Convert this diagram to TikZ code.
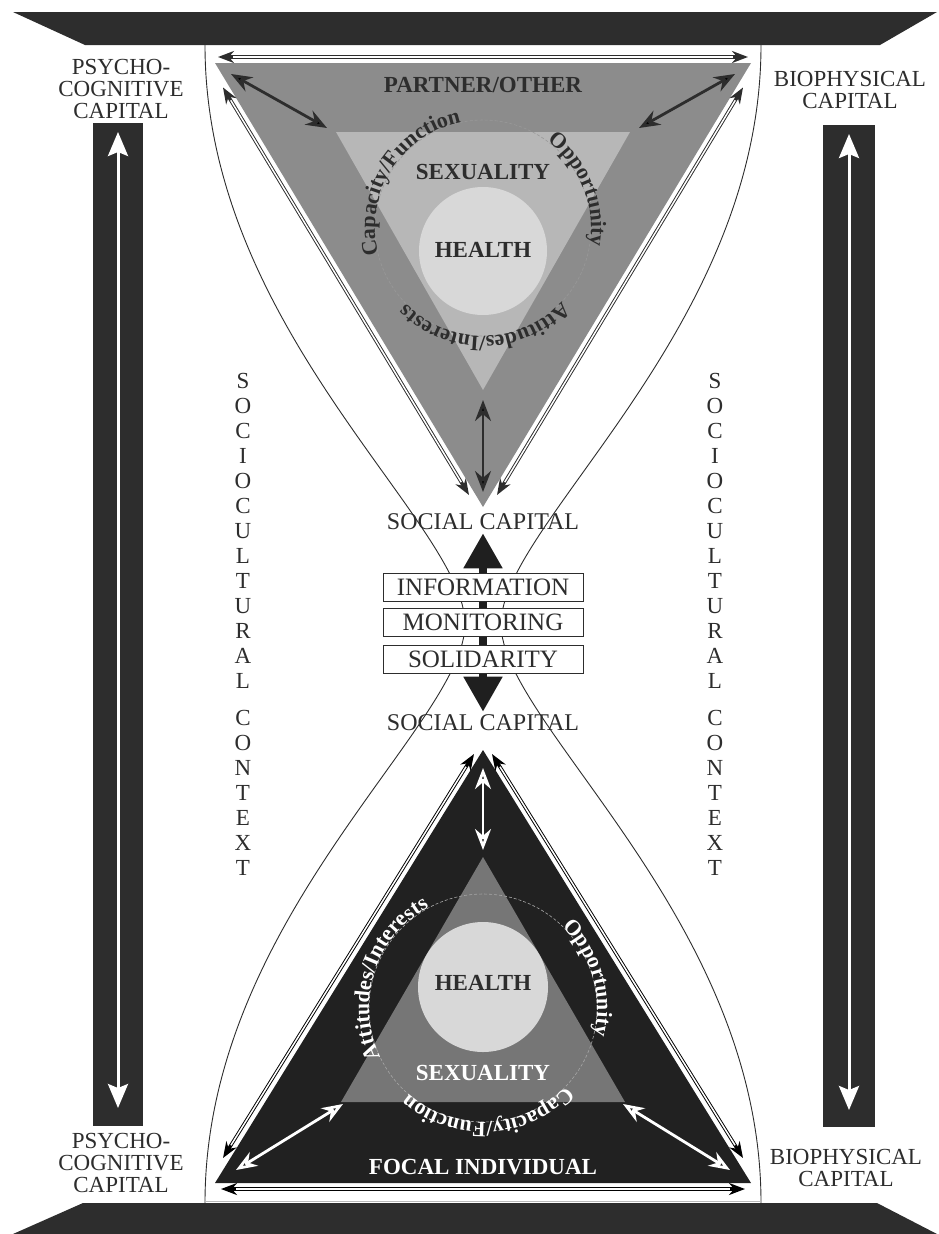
\documentclass[tikz,border=0pt]{standalone}
\usepackage{fontspec}
\setmainfont{Liberation Serif}
\usepackage{xcolor}
\usepackage{tikz}
\usetikzlibrary{arrows.meta,positioning,decorations.text}
\definecolor{barcol}{RGB}{45,45,45}
\definecolor{ink}{RGB}{45,45,45}
\definecolor{topouter}{RGB}{140,140,140}
\definecolor{topinner}{RGB}{183,183,183}
\definecolor{healthcol}{RGB}{216,216,216}
\definecolor{botouter}{RGB}{33,33,33}
\definecolor{botinner}{RGB}{118,118,118}
\newcommand{\arcfont}{\bfseries\fontsize{22}{22}\selectfont}
\newcommand{\ctxletters}{S\\O\\C\\I\\O\\C\\U\\L\\T\\U\\R\\A\\L\\[12pt]C\\O\\N\\T\\E\\X\\T}
\tikzset{
  sidebar/.style  = {fill=barcol, draw=none},
  capital/.style  = {align=center, text=ink, inner sep=0pt, font=\fontsize{23}{22}\selectfont},
  ctxcol/.style   = {align=center, text=ink, inner sep=0pt, font=\fontsize{23}{25}\selectfont},
  headline/.style = {inner sep=2pt, font=\bfseries\fontsize{23}{23}\selectfont},
  social/.style   = {text=ink, inner sep=3pt, font=\fontsize{24}{24}\selectfont},
  infobox/.style  = {rectangle, draw=ink, line width=1pt, fill=white, minimum width=200pt,
                     minimum height=28pt, inner sep=0pt, text=ink, font=\fontsize{25}{25}\selectfont},
  hglass/.style   = {draw=ink, line width=0.9pt},
  dashring/.style = {densely dashed, line width=0.6pt},
  darkfl/.style   = {{Stealth[length=21pt,width=16pt]}-{Stealth[length=21pt,width=16pt]}, line width=2.8pt, draw=ink},
  whitefl/.style  = {darkfl, draw=white},
  edgefl/.style   = {{Stealth[length=16pt,width=12pt]}-{Stealth[length=16pt,width=12pt]}, line width=3.4pt,
                     postaction={draw=white, -, line width=1.5pt, shorten <=15pt, shorten >=15pt}},
  barfl/.style    = {{Stealth[length=24pt,width=20pt,inset=4pt]}-{Stealth[length=24pt,width=20pt,inset=4pt]},
                     line width=3pt, draw=white},
  bigfl/.style    = {{Triangle[length=35pt,width=37pt]}-{Triangle[length=35pt,width=37pt]}, line width=8pt, draw=black!88},
}

\begin{document}
\begin{tikzpicture}[x=1pt,y=1pt,node distance=6pt]
  \useasboundingbox (0,0) rectangle (939,-1234);
  % frame
  \fill[sidebar] (13,-12) -- (937,-12) -- (880,-45) -- (85,-45) -- cycle;
  \fill[sidebar] (83,-1203) -- (877,-1203) -- (937,-1234) -- (13,-1234) -- cycle;
  % hourglass
  \draw[hglass] (205,-45) .. controls (205,-330) and (465,-524) .. (465,-624)
                .. controls (465,-724) and (205,-918) .. (205,-1203);
  \draw[hglass] (761,-45) .. controls (761,-330) and (501,-524) .. (501,-624)
                .. controls (501,-724) and (761,-918) .. (761,-1203);
  \draw[gray!55, line width=1pt] (205,-1201) -- (761,-1201);
  % side columns
  \fill[sidebar] (93,-123) rectangle (143,-1126);
  \fill[sidebar] (823,-125) rectangle (875,-1127);
  \coordinate (lUp) at (118,-132);
  \coordinate (lDn) at (118,-1108);
  \coordinate (rUp) at (849,-134);
  \coordinate (rDn) at (849,-1110);
  \draw[barfl] (lUp) -- (lDn);
  \draw[barfl] (rUp) -- (rDn);
  \node[capital] (pcTop) at (121,-89)   {PSYCHO-\\COGNITIVE\\CAPITAL};
  \node[capital] (pcBot) at (121,-1163) {PSYCHO-\\COGNITIVE\\CAPITAL};
  \node[capital] (bpTop) at (850,-90)   {BIOPHYSICAL\\CAPITAL};
  \node[capital] (bpBot) at (846,-1168) {BIOPHYSICAL\\CAPITAL};
  \node[ctxcol] (ctxL) at (243,-624) {\ctxletters};
  \node[ctxcol] (ctxR) at (715,-624) {\ctxletters};

  % partner / other
  \coordinate (tA) at (215,-63);
  \coordinate (tB) at (751,-63);
  \coordinate (tC) at (483,-507);
  \coordinate (tiA) at (336,-132);
  \coordinate (tiB) at (630,-132);
  \coordinate (tiC) at (483,-390);
  \coordinate (ctop) at (483,-228);
  \fill[topouter] (tA) -- (tB) -- (tC) -- cycle;
  \fill[topinner] (tiA) -- (tiB) -- (tiC) -- cycle;
  \fill[healthcol] (483,-251) circle[radius=64];
  \draw[dashring, black!40] (ctop) circle[radius=108];
  \node[headline, text=ink] (partner)   at (483,-85)  {PARTNER/OTHER};
  \node[headline, text=ink] (sexTop)    at (483,-172) {SEXUALITY};
  \node[headline, text=ink] (healthTop) at (483,-250) {HEALTH};
  \path[decorate, decoration={text along path, text align=center, text color=ink,
        text={|\arcfont|Capacity/Function}}]
        ([shift={(208:108)}]ctop) arc[start angle=208, end angle=88, radius=108];
  \path[decorate, decoration={text along path, text align=center, text color=ink,
        text={|\arcfont|Opportunity}}]
        ([shift={(82:108)}]ctop) arc[start angle=82, end angle=-38, radius=108];
  \path[decorate, decoration={text along path, text align=center, text color=ink,
        text={|\arcfont|Attitudes/Interests}}]
        ([shift={(-29:108)}]ctop) arc[start angle=-29, end angle=-149, radius=108];
  \coordinate (tlOut) at (231,-74);
  \coordinate (tlIn)  at (327,-128);
  \coordinate (trOut) at (735,-74);
  \coordinate (trIn)  at (639,-128);
  \coordinate (tvIn)  at (483,-400);
  \coordinate (tvOut) at (483,-492);
  \draw[darkfl] (tlOut) -- (tlIn);
  \draw[darkfl] (trOut) -- (trIn);
  \draw[darkfl] (tvIn) -- (tvOut);
  \coordinate (teL)  at (218,-57);
  \coordinate (teR)  at (748,-57);
  \coordinate (tsL1) at (223,-87.5);
  \coordinate (tsL2) at (469,-495);
  \coordinate (tsR1) at (743,-87.5);
  \coordinate (tsR2) at (497,-495);
  \draw[edgefl, draw=ink] (teL) -- (teR);
  \draw[edgefl, draw=ink] (tsL1) -- (tsL2);
  \draw[edgefl, draw=ink] (tsR1) -- (tsR2);

  % focal individual
  \coordinate (bA) at (215,-1183);
  \coordinate (bB) at (751,-1183);
  \coordinate (bC) at (483,-750);
  \coordinate (biA) at (341,-1102);
  \coordinate (biB) at (625,-1102);
  \coordinate (biC) at (483,-857);
  \coordinate (cbot) at (483,-1008);
  \fill[botouter] (bA) -- (bB) -- (bC) -- cycle;
  \fill[botinner] (biA) -- (biB) -- (biC) -- cycle;
  \fill[healthcol] (483,-987) circle[radius=65];
  \draw[dashring, gray!70] (cbot) circle[radius=114];
  \node[headline, text=ink]   (healthBot) at (483,-983)  {HEALTH};
  \node[headline, text=white] (sexBot)    at (483,-1073) {SEXUALITY};
  \node[headline, text=white] (focal)     at (483,-1167) {FOCAL INDIVIDUAL};
  \path[decorate, decoration={text along path, text align=center, text color=white,
        text={|\arcfont|Attitudes/Interests}}]
        ([shift={(222:114)}]cbot) arc[start angle=222, end angle=102, radius=114];
  \path[decorate, decoration={text along path, text align=center, text color=white,
        text={|\arcfont|Opportunity}}]
        ([shift={(76:114)}]cbot) arc[start angle=76, end angle=-44, radius=114];
  \path[decorate, decoration={text along path, text align=center, text color=white,
        text={|\arcfont|Capacity/Function}}]
        ([shift={(-27:114)}]cbot) arc[start angle=-27, end angle=-147, radius=114];
  \coordinate (blOut) at (236,-1170);
  \coordinate (blIn)  at (343,-1104);
  \coordinate (brOut) at (730,-1170);
  \coordinate (brIn)  at (623,-1104);
  \coordinate (bvIn)  at (483,-850);
  \coordinate (bvOut) at (483,-768);
  \draw[whitefl] (blOut) -- (blIn);
  \draw[whitefl] (brOut) -- (brIn);
  \draw[whitefl] (bvIn) -- (bvOut);
  \coordinate (beL)  at (221,-1189);
  \coordinate (beR)  at (745,-1189);
  \coordinate (bsL1) at (223,-1158);
  \coordinate (bsL2) at (474,-754);
  \coordinate (bsR1) at (743,-1158);
  \coordinate (bsR2) at (492,-754);
  \draw[edgefl, draw=black] (beL) -- (beR);
  \draw[edgefl, draw=black] (bsL1) -- (bsL2);
  \draw[edgefl, draw=black] (bsR1) -- (bsR2);

  % social capital link
  \node[social] (scTop) at (483,-522) {SOCIAL CAPITAL};
  \node[social] (scBot) at (483,-723) {SOCIAL CAPITAL};
  \draw[bigfl] (scTop) -- (scBot);
  \node[infobox] (info) at (483,-587.5) {INFORMATION};
  \node[infobox, below=6pt of info]  (monit) {MONITORING};
  \node[infobox, below=8pt of monit] (solid) {SOLIDARITY};
\end{tikzpicture}
\end{document}
